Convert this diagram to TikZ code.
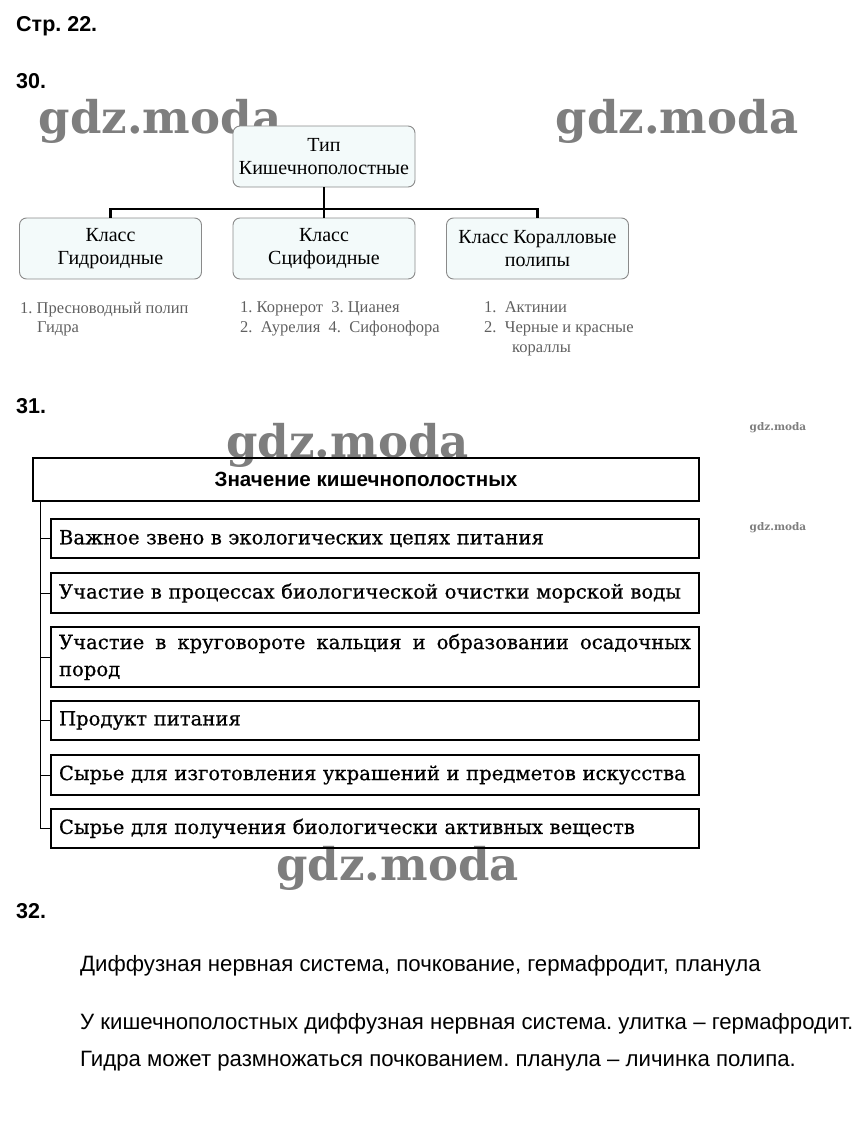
\documentclass[tikz,border=0pt]{standalone}
\usepackage{fontspec}
\setmainfont{Liberation Serif}
\newfontfamily\arialf{Liberation Sans}
\newfontfamily\bookf[FakeBold=0.6]{DejaVu Serif}
\newfontfamily\wmf{DejaVu Serif}
\definecolor{boxfill}{HTML}{F3FAFA}
\definecolor{boxline}{HTML}{8A8A8A}
\definecolor{listgray}{HTML}{606060}
\definecolor{wmgray}{HTML}{7E7E7E}
\frenchspacing
\hbadness=10000 \hfuzz=50pt
\tikzset{
  x=1pt, y=-1pt,
  hdr/.style={anchor=west, font=\arialf\bfseries\fontsize{21.5}{24}\selectfont, inner sep=0pt},
  tbox/.style={draw=boxline, fill=boxfill, rounded corners=7pt, line width=0.9pt,
    minimum width=182pt, minimum height=61pt, align=center, inner sep=2pt,
    font=\fontsize{20}{23}\selectfont},
  conn/.style={line width=2.6pt, black},
  lst/.style={anchor=north west, align=left, text=listgray, inner sep=0pt,
    font=\fontsize{16.5}{20}\selectfont},
  wmbig/.style={anchor=base, font=\wmf\bfseries\fontsize{45}{50}\selectfont, text=wmgray, inner sep=0pt},
  wmsmall/.style={font=\wmf\bfseries\fontsize{10.5}{12}\selectfont, text=wmgray, inner sep=0pt},
  titlebox/.style={draw, line width=1.6pt, minimum width=666pt, minimum height=43pt,
    inner sep=0pt, font=\arialf\bfseries\fontsize{20.6}{23}\selectfont},
  ibox/.style={draw, line width=1.2pt, minimum width=648pt, inner xsep=8pt,
    text width=632pt, align=left, font=\bookf\fontsize{19.6}{27}\selectfont},
  tline/.style={line width=1pt, black},
  body/.style={anchor=west, inner sep=0pt, font=\arialf\fontsize{22.2}{25}\selectfont}
}
\begin{document}
\begin{tikzpicture}
\useasboundingbox (0,0) rectangle (863,1127);
% headings
\node[hdr] (h0) at (16,26) {Стр. 22.};
\node[hdr] (h30) at (16,81) {30.};
\node[hdr] (h31) at (16,406) {31.};
\node[hdr] (h32) at (16,911) {32.};
% watermarks
\node[wmbig] (wm1) at (160,133) {gdz.moda};
\node[wmbig] (wm2) at (677,133) {gdz.moda};
\node[wmbig] (wm3) at (347.5,457) {gdz.moda};
\node[wmbig] (wm4) at (397.5,880) {gdz.moda};
\node[wmsmall] (wm5) at (778,428) {gdz.moda};
\node[wmsmall] (wm6) at (778,528) {gdz.moda};
% section 30
\node[tbox] (tip) at (324,156.5) {Тип\\Кишечнополостные};
\node[tbox] (hyd) at (110.5,248.5) {Класс\\Гидроидные};
\node[tbox] (sci) at (324,248.5) {Класс\\Сцифоидные};
\node[tbox] (cor) at (537.5,248.5) {Класс Коралловые\\полипы};
\coordinate (j) at (324,209);
\draw[conn] (tip.south) -- (sci.north);
\draw[conn] (hyd.north) -- (hyd.north |- j) -- (cor.north |- j) -- (cor.north);
\node[lst] (l1) at (20,301.5) {1.\ Пресноводный полип\\\hspace*{17pt}Гидра};
\node[lst] (l2) at (240,301.5) {1.\ Корнерот\ \ 3.\ Цианея\\2.\ \ Аурелия\ \ 4.\ \ Сифонофора};
\node[lst] (l3) at (484,301.5) {1.\ \ Актинии\\2.\ \ Черные и красные\\\hspace*{28pt}кораллы};
% section 31
\node[titlebox] (zn) at (366,479.5) {Значение кишечнополостных};
\node[ibox, minimum height=39pt] (b1) at (375,538.5) {\mbox{Важное звено в экологических цепях питания}};
\node[ibox, minimum height=40pt] (b2) at (375,593) {\mbox{Участие в процессах биологической очистки морской воды}};
\node[ibox, minimum height=60pt, align=justify] (b3) at (375,657) {Участие в круговороте кальция и образовании осадочных\linebreak пород};
\node[ibox, minimum height=39pt] (b4) at (375,720.5) {\mbox{Продукт питания}};
\node[ibox, minimum height=40pt] (b5) at (375,775) {\mbox{Сырье для изготовления украшений и предметов искусства}};
\node[ibox, minimum height=39pt] (b6) at (375,828.5) {\mbox{Сырье для получения биологически активных веществ}};
\coordinate (v0) at (40,501);
\draw[tline] (v0) |- (b6.west);
\foreach \b in {b1,b2,b3,b4,b5} { \draw[tline] (\b.west) -- (\b.west -| v0); }
% section 32
\node[body] (t1) at (80,966) {Диффузная нервная система, почкование, гермафродит, планула};
\node[body] (t2) at (80,1024) {У кишечнополостных диффузная нервная система. улитка – гермафродит.};
\node[body] (t3) at (80,1061) {Гидра может размножаться почкованием. планула – личинка полипа.};
\end{tikzpicture}
\end{document}
